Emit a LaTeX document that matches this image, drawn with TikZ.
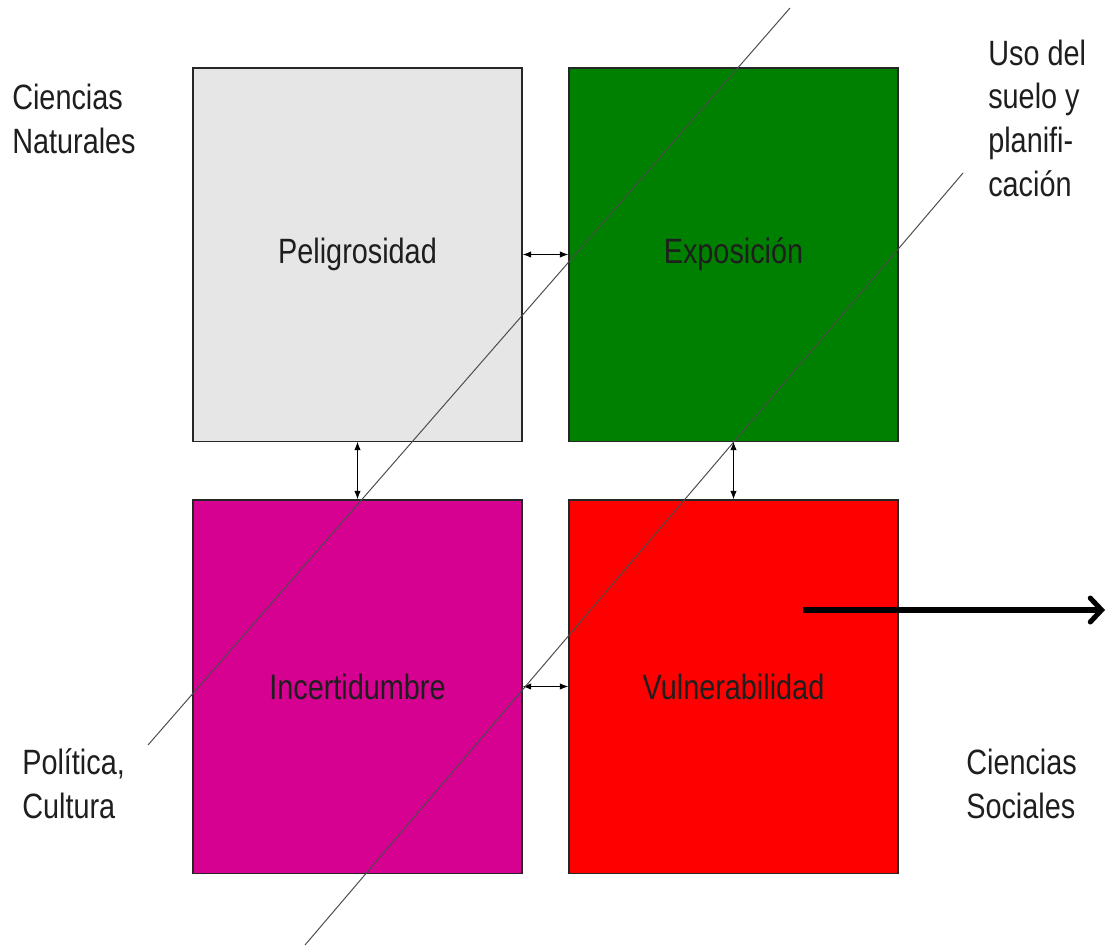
\documentclass[tikz,border=0pt]{standalone}
\usepackage{fontspec}
\setmainfont{Liberation Sans}[FakeStretch=0.82]
\usetikzlibrary{arrows.meta}

\definecolor{gris}{RGB}{230,230,230}
\definecolor{verde}{RGB}{0,128,0}
\definecolor{magenta}{RGB}{214,0,145}
\definecolor{rojo}{RGB}{255,0,0}
\definecolor{texto}{RGB}{30,30,30}

\tikzset{
  caja/.style={draw=black!85, line width=0.8pt, inner sep=0pt,
    minimum width=8.225cm, minimum height=9.325cm, text=texto},
  doble/.style={{Latex[length=6pt,width=4.5pt]}-{Latex[length=6pt,width=4.5pt]}, line width=0.8pt},
  diagonal/.style={draw=black!70, line width=0.7pt},
  rotulo/.style={anchor=base west, align=left, inner sep=0pt, text=texto}
}

\begin{document}
\begin{tikzpicture}[x=0.025cm, y=-0.025cm, font=\fontsize{25}{31}\selectfont]
      \useasboundingbox (0,0) rectangle (1109,950);
      % cajas
      \foreach \n/\x/\y/\c/\t in {peligro/357.5/254.5/gris/Peligrosidad,
                                  expo/733.5/254.5/verde/Exposición,
                                  incert/357.5/686.5/magenta/Incertidumbre,
                                  vulner/733.5/686.5/rojo/Vulnerabilidad}
      \node[caja, fill=\c] (\n) at (\x,\y) {\t};
      % relaciones
      \foreach \a/\b in {peligro/expo, peligro/incert, expo/vulner, incert/vulner}
      \draw[doble] (\a) -- (\b);
      % diagonales
      \draw[diagonal] (790,8) -- (148,745);
      \draw[diagonal] (963,173) -- (305,945);
      % flecha de salida
      \coordinate (salida) at (803,610);
      \coordinate (fin) at (1105,610);
      \draw[line width=3.6pt, -{Straight Barb[length=8pt,width=17pt,line cap=round]}] (salida) -- (fin);
      % rotulos
      \node[rotulo] (natur) at (12,153) {Ciencias\\Naturales};
      \node[rotulo] (suelo) at (988,196) {Uso del\\suelo y\\planifi-\\cación};
      \node[rotulo] (polit) at (22,818) {Política,\\Cultura};
      \node[rotulo] (socia) at (966,818) {Ciencias\\Sociales};
    \end{tikzpicture}
\end{document}
